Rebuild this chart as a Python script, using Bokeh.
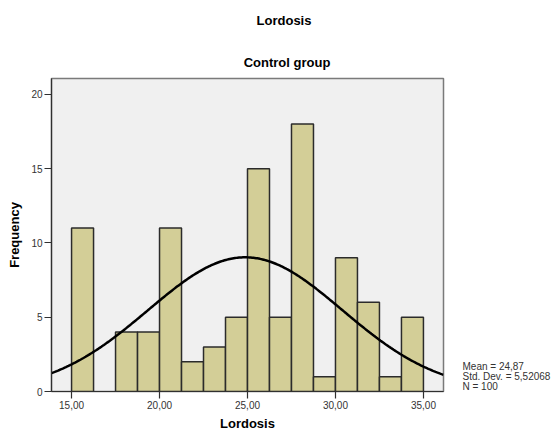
import numpy as np
from bokeh.plotting import figure
from bokeh.layouts import column, row
from bokeh.models import Range1d, FixedTicker
from bokeh.core.properties import value
from bokeh.embed import file_html
from bokeh.resources import INLINE

# Data
bin_starts = [15.0, 16.25, 17.5, 18.75, 20.0, 21.25, 22.5, 23.75, 25.0, 26.25, 27.5, 28.75, 30.0, 31.25, 32.5, 33.75]
counts = [11, 0, 4, 4, 11, 2, 3, 5, 15, 5, 18, 1, 9, 6, 1, 5]
bin_width = 1.25
mean = 24.87
std_dev = 5.52068
n = 100
x_ticks = [15, 20, 25, 30, 35]
x_tick_labels = ["15,00", "20,00", "25,00", "30,00", "35,00"]
y_ticks = [0, 5, 10, 15, 20]
main_title = "Lordosis"
sub_title = "Control group"
stats = ["Mean = 24,87", "Std. Dev. = 5,52068", "N = 100"]

FONT = "Liberation Sans"
TOP_H = 75
MAIN_W, MAIN_H = 445, 358
SIDE_W = 554 - MAIN_W
B_TOP, B_BOTTOM = 3, 40


def text_fig(w, h, xr, yr, bt=0, bb=0):
    f = figure(width=w, height=h, output_backend="svg", toolbar_location=None,
               x_range=xr, y_range=yr, x_axis_type=None, y_axis_type=None,
               min_border=0, min_border_left=0, min_border_right=0,
               min_border_top=bt, min_border_bottom=bb)
    f.outline_line_color = None
    f.grid.visible = False
    f.background_fill_color = "white"
    f.border_fill_color = "white"
    return f


# Title area (page pixel coordinates)
top = text_fig(554, TOP_H, Range1d(0, 554), Range1d(TOP_H, 0))
top.text(x=[283.5], y=[20], text=[main_title], text_font=value(FONT), text_font_style="bold",
         text_font_size=value("13px"), text_align="center", text_baseline="middle", text_color="black")
top.text(x=[286.5], y=[62], text=[sub_title], text_font=value(FONT), text_font_style="bold",
         text_font_size=value("13px"), text_align="center", text_baseline="middle", text_color="black")

# Main histogram
p = figure(width=MAIN_W, height=MAIN_H, output_backend="svg", toolbar_location=None,
           x_range=Range1d(13.86, 36.14), y_range=Range1d(0, 21.07),
           min_border_left=51, min_border_right=2, min_border_top=B_TOP, min_border_bottom=B_BOTTOM)
p.background_fill_color = "#f0f0f0"
p.border_fill_color = "white"
p.outline_line_color = "#7a7a7a"
p.outline_line_width = 1.5
p.grid.visible = False

lefts = np.array(bin_starts)
rights = lefts + bin_width
tops = np.array(counts)
mask = tops > 0
p.quad(left=lefts[mask], right=rights[mask], bottom=0, top=tops[mask],
       fill_color="#d3ce97", line_color="#2b2b2b", line_width=1.5)

xs = np.linspace(13.86, 36.14, 300)
ys = n * bin_width / (std_dev * np.sqrt(2 * np.pi)) * np.exp(-0.5 * ((xs - mean) / std_dev) ** 2)
p.line(xs, ys, line_color="black", line_width=2.5)

for ax in (p.xaxis[0], p.yaxis[0]):
    ax.axis_line_color = "#303030"
    ax.axis_line_width = 1.2
    ax.major_tick_line_color = "#303030"
    ax.major_tick_line_width = 1.2
    ax.major_tick_out = 7
    ax.major_tick_in = 0
    ax.minor_tick_line_color = None
    ax.major_label_text_font = FONT
    ax.major_label_text_font_size = "10px"
    ax.major_label_text_color = "#333333"
    ax.axis_label_text_font = FONT
    ax.axis_label_text_font_style = "bold"
    ax.axis_label_text_font_size = "13px"
    ax.axis_label_text_color = "black"

p.xaxis.ticker = FixedTicker(ticks=x_ticks)
p.xaxis.major_label_overrides = {t: l for t, l in zip(x_ticks, x_tick_labels)}
p.xaxis.axis_label = "Lordosis"
p.xaxis.axis_label_standoff = 4
p.xaxis.major_label_standoff = 2

p.yaxis.ticker = FixedTicker(ticks=y_ticks)
p.yaxis.axis_label = "Frequency"
p.yaxis.axis_label_standoff = 6
p.yaxis.major_label_standoff = 2

# Statistics box on the right; its frame is aligned with the main frame (page y 78..393)
frame_top_page = TOP_H + B_TOP
frame_bottom_page = TOP_H + MAIN_H - B_BOTTOM
side = text_fig(SIDE_W, MAIN_H, Range1d(MAIN_W, 554), Range1d(frame_bottom_page, frame_top_page),
                bt=B_TOP, bb=B_BOTTOM)
side.text(x=[462, 462, 462], y=[368, 378, 388], text=stats, text_font=value(FONT),
          text_font_size=value("10px"), text_color="#333333",
          text_align="left", text_baseline="middle")

layout = column(top, row(p, side, spacing=0), spacing=0)
open("out.html", "w").write(file_html(layout, INLINE))
